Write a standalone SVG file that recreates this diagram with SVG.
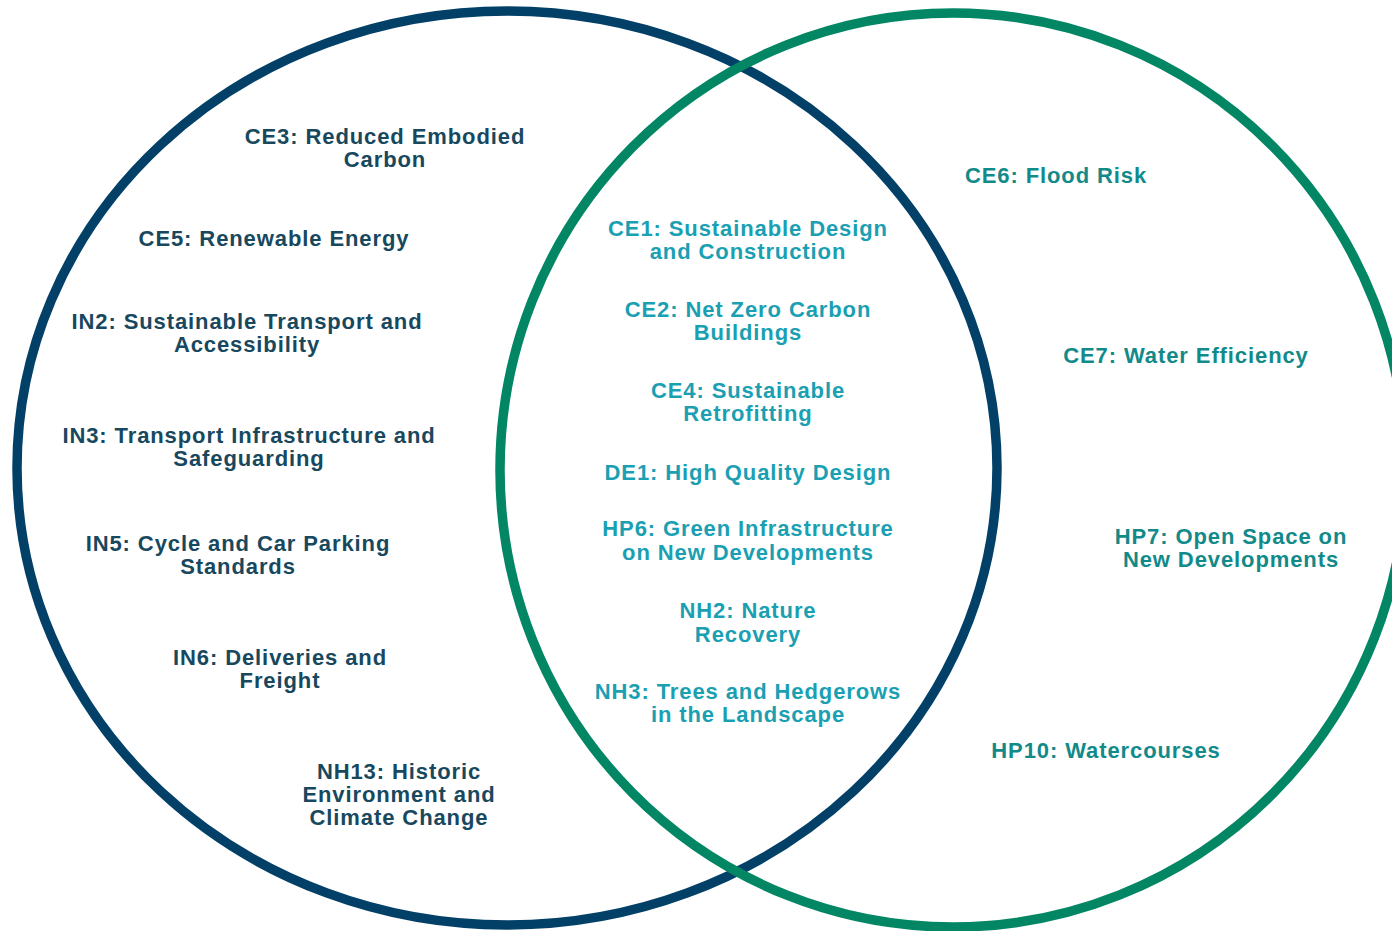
<svg xmlns="http://www.w3.org/2000/svg" width="1392" height="931" viewBox="0 0 1392 931">
<style>
text{font-family:"Liberation Sans",Arial,sans-serif;font-weight:bold;font-size:22px;letter-spacing:0.9px;text-anchor:middle}
.l{fill:#17485e}
.c{fill:#1a9fb3}
.r{fill:#128a8a}
.ring{fill:none;stroke-width:9.5}
</style>
<rect width="1392" height="931" fill="#ffffff"/>
<g id="sets">
<ellipse id="set-left" class="ring" cx="507" cy="468" rx="490" ry="457" stroke="#034068"/>
<ellipse id="set-right" class="ring" cx="953" cy="470" rx="453" ry="457" stroke="#028663"/>
</g>
<g id="connectors"></g>
<g id="left-items" class="l">
<g id="CE3"><text x="385" y="144">CE3: Reduced Embodied</text><text x="385" y="167">Carbon</text></g>
<g id="CE5"><text x="274" y="246">CE5: Renewable Energy</text></g>
<g id="IN2"><text x="247" y="329">IN2: Sustainable Transport and</text><text x="247" y="352">Accessibility</text></g>
<g id="IN3"><text x="249" y="443">IN3: Transport Infrastructure and</text><text x="249" y="466">Safeguarding</text></g>
<g id="IN5"><text x="238" y="551">IN5: Cycle and Car Parking</text><text x="238" y="574">Standards</text></g>
<g id="IN6"><text x="280" y="665">IN6: Deliveries and</text><text x="280" y="688">Freight</text></g>
<g id="NH13"><text x="399" y="779">NH13: Historic</text><text x="399" y="802">Environment and</text><text x="399" y="825">Climate Change</text></g>
</g>
<g id="centre-items" class="c">
<g id="CE1"><text x="748" y="236">CE1: Sustainable Design</text><text x="748" y="259">and Construction</text></g>
<g id="CE2"><text x="748" y="317">CE2: Net Zero Carbon</text><text x="748" y="340">Buildings</text></g>
<g id="CE4"><text x="748" y="398">CE4: Sustainable</text><text x="748" y="421">Retrofitting</text></g>
<g id="DE1"><text x="748" y="480">DE1: High Quality Design</text></g>
<g id="HP6"><text x="748" y="536">HP6: Green Infrastructure</text><text x="748" y="560">on New Developments</text></g>
<g id="NH2"><text x="748" y="618">NH2: Nature</text><text x="748" y="642">Recovery</text></g>
<g id="NH3"><text x="748" y="699">NH3: Trees and Hedgerows</text><text x="748" y="722">in the Landscape</text></g>
</g>
<g id="right-items" class="r">
<g id="CE6"><text x="1056" y="183">CE6: Flood Risk</text></g>
<g id="CE7"><text x="1186" y="363">CE7: Water Efficiency</text></g>
<g id="HP7"><text x="1231" y="544">HP7: Open Space on</text><text x="1231" y="567">New Developments</text></g>
<g id="HP10"><text x="1106" y="758">HP10: Watercourses</text></g>
</g>
</svg>
